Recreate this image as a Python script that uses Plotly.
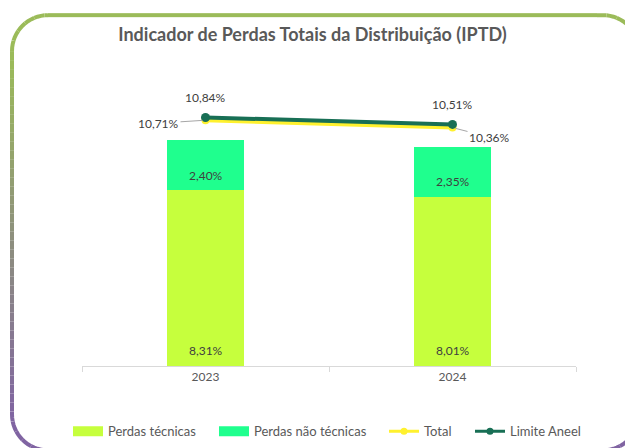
import math
import plotly.graph_objects as go

# ---------------- data ----------------
years = ["2023", "2024"]
perdas_tecnicas = [8.31, 8.01]
perdas_nao_tecnicas = [2.40, 2.35]
total = [10.71, 10.36]
limite_aneel = [10.84, 10.51]

title_text = "Indicador de Perdas Totais da Distribuição (IPTD)"

# ---------------- style ----------------
W, H = 625, 448
ML, MR, MT, MB = 82, 49, 100, 81.5
PW, PH = W - ML - MR, H - MT - MB

C_TEC = "#C6FF3D"
C_NTEC = "#1FFF8E"
C_TOTAL = "#FFF12E"
C_LIM = "#186F55"
TXT = "#404040"
FONT = "Lato"

def fmt(v):
    return f"{v:.2f}".replace(".", ",") + "%"

# primary and secondary axis ranges (same scale, offset like the source chart)
k = 21.17  # px per unit
y1_range = [0, PH / k]
y2_bottom = limite_aneel[0] - (366.5 - 117.5) / k
y2_range = [y2_bottom, y2_bottom + PH / k]

fig = go.Figure()
fig.add_trace(go.Bar(x=years, y=perdas_tecnicas, name="Perdas técnicas", showlegend=False,
                     legendgroup="tec",
                     marker=dict(color=C_TEC, line=dict(width=0)), width=0.308))
fig.add_trace(go.Bar(x=years, y=perdas_nao_tecnicas, name="Perdas não técnicas", showlegend=False,
                     legendgroup="ntec",
                     marker=dict(color=C_NTEC, line=dict(width=0)), width=0.308))
fig.add_trace(go.Scatter(x=years, y=total, name="Total", yaxis="y2", mode="lines+markers",
                         line=dict(color=C_TOTAL, width=4), showlegend=False, legendgroup="tot",
                         marker=dict(color=C_TOTAL, size=8)))
fig.add_trace(go.Scatter(x=years, y=limite_aneel, name="Limite Aneel", yaxis="y2", mode="lines+markers",
                         line=dict(color=C_LIM, width=4), showlegend=False, legendgroup="lim",
                         marker=dict(color=C_LIM, size=9)))

# legend entries (Excel-style wide swatches)
legend_items = [
    ("Perdas técnicas", "tec", dict(mode="lines", line=dict(color=C_TEC, width=10)), 101),
    ("Perdas não técnicas", "ntec", dict(mode="lines", line=dict(color=C_NTEC, width=10)), 125),
    ("Total", "tot", dict(mode="lines+markers", line=dict(color=C_TOTAL, width=3),
                          marker=dict(color=C_TOTAL, size=7)), 41),
    ("Limite Aneel", "lim", dict(mode="lines+markers", line=dict(color=C_LIM, width=3),
                                 marker=dict(color=C_LIM, size=7)), 75),
]
for name, grp, kw, lw in legend_items:
    fig.add_trace(go.Scatter(x=[None], y=[None], name=name, legendgroup=grp,
                             showlegend=True, legendwidth=lw, hoverinfo="skip", **kw))

annotations = []
# bar labels (x given as category index)
for i, (a, b) in enumerate(zip(perdas_tecnicas, perdas_nao_tecnicas)):
    annotations.append(dict(x=i, y=0, xref="x", yref="y", text=fmt(a), showarrow=False,
                            yshift=15.5, font=dict(family=FONT, size=12, color=TXT)))
    annotations.append(dict(x=i, y=a + b / 2, xref="x", yref="y", text=fmt(b), showarrow=False,
                            yshift=-10, font=dict(family=FONT, size=12, color=TXT)))
# line labels
for i, v in enumerate(limite_aneel):
    annotations.append(dict(x=i, y=v, xref="x", yref="y2", text=fmt(v), showarrow=False,
                            yshift=20, font=dict(family=FONT, size=12, color=TXT)))
tot_offsets = [(-47, 3), (37, 9.5)]
for i, (v, (ax, ay)) in enumerate(zip(total, tot_offsets)):
    annotations.append(dict(x=i, y=v, xref="x", yref="y2", text=fmt(v), showarrow=True,
                            ax=ax, ay=ay, arrowhead=0, arrowwidth=1, arrowcolor="#A6A6A6",
                            standoff=3, font=dict(family=FONT, size=12, color=TXT)))

# ---------------- rounded gradient border (decoration) ----------------
def to_paper(px, py):
    return (px - ML) / PW, (H - MB - py) / PH

def rounded_rect(x0, y0, x1, y1, r, step=3.0):
    pts = []
    def line(ax_, ay_, bx, by):
        n = max(1, int(math.hypot(bx - ax_, by - ay_) / step))
        for i in range(n):
            t = i / n
            pts.append((ax_ + (bx - ax_) * t, ay_ + (by - ay_) * t))
    def arc(cx, cy, a0, a1):
        n = 16
        for i in range(n):
            a = math.radians(a0 + (a1 - a0) * i / n)
            pts.append((cx + r * math.cos(a), cy + r * math.sin(a)))
    line(x0 + r, y0, x1 - r, y0)
    arc(x1 - r, y0 + r, -90, 0)
    line(x1, y0 + r, x1, y1 - r)
    arc(x1 - r, y1 - r, 0, 90)
    line(x1 - r, y1, x0 + r, y1)
    arc(x0 + r, y1 - r, 90, 180)
    line(x0, y1 - r, x0, y0 + r)
    arc(x0 + r, y0 + r, 180, 270)
    pts.append(pts[0])
    return pts

def lerp_color(c0, c1, t):
    t = min(1, max(0, t))
    a = [int(c0[i:i + 2], 16) for i in (1, 3, 5)]
    b = [int(c1[i:i + 2], 16) for i in (1, 3, 5)]
    return "#" + "".join(f"{round(a[i] + (b[i] - a[i]) * t):02x}" for i in range(3))

BX0, BY0, BX1, BY1, BR = 12, 15, 639, 451, 36
G_TOP, G_BOT = "#9BBB59", "#8064A2"
pts = rounded_rect(BX0, BY0, BX1, BY1, BR)
shapes = []
chunk = 3
for i in range(0, len(pts) - 1, chunk):
    seg = pts[i:i + chunk + 1]
    my = sum(p[1] for p in seg) / len(seg)
    col = lerp_color(G_TOP, G_BOT, (my - 60) / (420 - 60))
    path = ""
    for j, (px, py) in enumerate(seg):
        qx, qy = to_paper(px, py)
        path += ("M" if j == 0 else "L") + f"{qx:.5f},{qy:.5f}"
    shapes.append(dict(type="path", xref="paper", yref="paper", path=path,
                       line=dict(color=col, width=4), layer="above"))

fig.update_layout(
    width=W, height=H,
    margin=dict(l=ML, r=MR, t=MT, b=MB, pad=0, autoexpand=False),
    paper_bgcolor="white", plot_bgcolor="white",
    barmode="stack",
    title=dict(text="<b>" + title_text + "</b>", x=0.5, xanchor="center",
               y=1 - 35 / H, yanchor="middle", yref="container",
               font=dict(family=FONT, size=18, color="#595959")),
    xaxis=dict(type="category", range=[-0.5, 1.5], autorange=False, automargin=False,
               showgrid=False, showline=True, linecolor="#D9D9D9", linewidth=1,
               ticks="outside", ticklen=5, tickcolor="#D9D9D9", tickson="boundaries",
               tickangle=0,
               tickfont=dict(family=FONT, size=12, color="#595959"), zeroline=False),
    yaxis=dict(range=y1_range, autorange=False, visible=False, showgrid=False),
    yaxis2=dict(range=y2_range, autorange=False, visible=False, overlaying="y", showgrid=False),
    legend=dict(orientation="h", x=(68 - ML) / PW, xanchor="left",
                y=(H - MB - 432) / PH, yanchor="middle",
                font=dict(family=FONT, size=13, color="#595959"), traceorder="normal",
                itemwidth=30, bgcolor="rgba(0,0,0,0)"),
    annotations=annotations,
    shapes=shapes,
    showlegend=True,
)

fig.write_html("out.html", config={"displayModeBar": False},
               post_script="document.body.style.margin='0px';document.body.style.overflow='hidden';")
